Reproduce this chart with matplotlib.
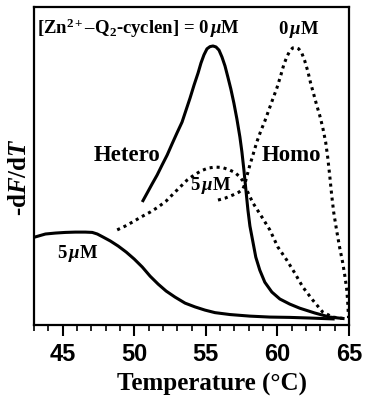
import matplotlib
matplotlib.use("Agg")
import matplotlib.pyplot as plt
from matplotlib.ticker import MultipleLocator

plt.rcParams['mathtext.fontset'] = 'custom'
plt.rcParams['mathtext.rm'] = 'Liberation Serif:bold'
plt.rcParams['mathtext.it'] = 'Liberation Serif:bold:italic'
plt.rcParams['mathtext.bf'] = 'Liberation Serif:bold'

# ---- data (temperature in degC, -dF/dT in arbitrary units) ----
hetero0_T = [50.56, 50.90, 51.25, 51.60, 51.95, 52.30, 52.64, 52.99, 53.34, 53.62,
             53.90, 54.18, 54.46, 54.66, 54.87, 55.08, 55.29, 55.50, 55.71, 55.92,
             56.13, 56.34, 56.54, 56.75, 56.96, 57.17, 57.38, 57.52, 57.66, 57.80,
             57.94, 58.08, 58.29, 58.49, 58.77, 59.12, 59.61, 60.17, 60.86, 61.56,
             62.60, 63.65, 64.69]
hetero0_y = [38.5, 41.3, 44.2, 47.0, 50.2, 53.3, 56.8, 60.3, 63.7, 67.5,
             71.3, 75.4, 79.2, 82.3, 84.9, 86.8, 87.5, 87.7, 87.4, 86.4,
             84.2, 81.4, 77.9, 74.1, 69.7, 64.7, 59.0, 54.3, 48.6, 42.3,
             36.0, 30.9, 25.9, 21.1, 17.0, 13.2, 10.1, 7.9, 6.3, 5.0,
             3.5, 2.2, 1.7]

hetero5_T = [43.03, 43.80, 44.50, 45.19, 45.89, 46.59, 47.07, 47.42, 47.84, 48.33,
             48.88, 49.44, 50.00, 50.56, 51.11, 51.67, 52.23, 52.85, 53.55, 54.25,
             54.94, 55.64, 56.68, 58.08, 59.47, 60.86, 62.26, 64.00]
hetero5_y = [27.4, 28.4, 28.7, 28.9, 29.0, 29.0, 28.9, 28.4, 27.4, 26.2,
             24.6, 22.7, 20.5, 18.0, 15.1, 12.6, 10.4, 8.5, 6.6, 5.4,
             4.4, 3.6, 3.0, 2.5, 2.2, 2.1, 1.9, 1.6]

homo5_T = [48.81, 49.37, 49.93, 50.49, 51.11, 51.67, 52.23, 52.71, 53.20, 53.69,
           54.18, 54.66, 55.15, 55.64, 56.13, 56.61, 57.03, 57.38, 57.59, 57.73,
           58.29, 58.91, 59.47, 60.03, 60.65, 61.21, 61.77, 62.46, 63.16, 63.86, 64.69]
homo5_y = [29.7, 30.9, 32.3, 33.8, 35.3, 36.9, 38.8, 41.0, 43.2, 45.4,
           47.0, 48.3, 49.2, 49.5, 49.4, 48.7, 47.8, 46.4, 45.1, 43.5,
           38.2, 33.8, 29.7, 24.3, 20.2, 16.1, 11.7, 7.6, 3.8, 2.2, 1.7]

homo0_T = [55.85, 56.34, 56.89, 57.31, 57.59, 57.73, 57.87, 58.08, 58.29, 58.56,
           58.84, 59.12, 59.40, 59.68, 59.96, 60.24, 60.44, 60.65, 60.86, 61.07,
           61.28, 61.49, 61.70, 61.91, 62.12, 62.32, 62.53, 62.74, 62.95, 63.16,
           63.37, 63.51, 63.65, 63.79, 63.93, 64.13, 64.34, 64.55, 64.69, 64.83,
           64.90, 64.94, 64.97]
homo0_y = [39.1, 39.7, 40.7, 41.6, 42.6, 44.2, 46.7, 50.2, 53.3, 57.4,
           60.9, 64.0, 67.5, 71.0, 74.4, 78.5, 81.7, 84.2, 86.1, 87.1,
           87.2, 86.8, 85.5, 83.0, 79.8, 76.0, 72.6, 69.1, 65.9, 62.1,
           57.4, 52.7, 47.0, 40.7, 35.3, 29.7, 24.3, 19.6, 15.8, 11.4,
           7.6, 4.4, 1.9]

x_ticks = [45, 50, 55, 60, 65]

fig = plt.figure(figsize=(3.77, 4.01), dpi=100)
ax = fig.add_axes([34/377, 1-325/401, (349-34)/377, (325-7)/401])

lw = 2.2
dot = (0, (1.0, 1.3))
ax.plot(hetero0_T, hetero0_y, color='black', lw=lw, solid_capstyle='butt',
        solid_joinstyle='round')
ax.plot(hetero5_T, hetero5_y, color='black', lw=lw, solid_capstyle='butt',
        solid_joinstyle='round')
ax.plot(homo0_T, homo0_y, color='black', lw=lw, linestyle=dot)
ax.plot(homo5_T, homo5_y, color='black', lw=lw, linestyle=dot)

ax.set_xlim(43, 65)
ax.set_ylim(-0.3, 100)
ax.set_yticks([])
ax.set_xticks(x_ticks)
ax.xaxis.set_minor_locator(MultipleLocator(1))
ax.tick_params(axis='x', which='major', direction='out', length=8, width=1.5,
               labelsize=17, pad=5)
ax.tick_params(axis='x', which='minor', direction='out', length=4.5, width=1.2)
for lab in ax.get_xticklabels():
    lab.set_fontfamily('Liberation Sans')
    lab.set_fontweight('bold')
for s in ax.spines.values():
    s.set_linewidth(1.6)

serif = dict(family='Liberation Serif', weight='bold', color='black')
ax.text(0.01, 0.915, r"[Zn$^{\mathrm{2+}}$–Q$_{\mathrm{2}}$-cyclen] = 0$\,\mu$M",
        transform=ax.transAxes, fontsize=13.5, ha='left', va='baseline', **serif)
ax.text(0.775, 0.915, r"0$\,\mu$M", transform=ax.transAxes, fontsize=13.5,
        ha='left', va='baseline', **serif)
ax.text(0.188, 0.515, "Hetero", transform=ax.transAxes, fontsize=16.5,
        ha='left', va='baseline', **serif)
ax.text(0.724, 0.515, "Homo", transform=ax.transAxes, fontsize=16.5,
        ha='left', va='baseline', **serif)
ax.text(0.495, 0.425, r"5$\,\mu$M", transform=ax.transAxes, fontsize=13.5,
        ha='left', va='baseline', **serif)
ax.text(0.073, 0.21, r"5$\,\mu$M", transform=ax.transAxes, fontsize=13.5,
        ha='left', va='baseline', **serif)

fig.text(212/377, 1-384/401, "Temperature (°C)", fontsize=18, ha='center',
         va='center', **serif)
fig.text(20/377, 1-177/401, r"-d$F$/d$T$", fontsize=18, rotation=90,
         ha='center', va='center', **serif)

fig.savefig("out.png", dpi=100)
